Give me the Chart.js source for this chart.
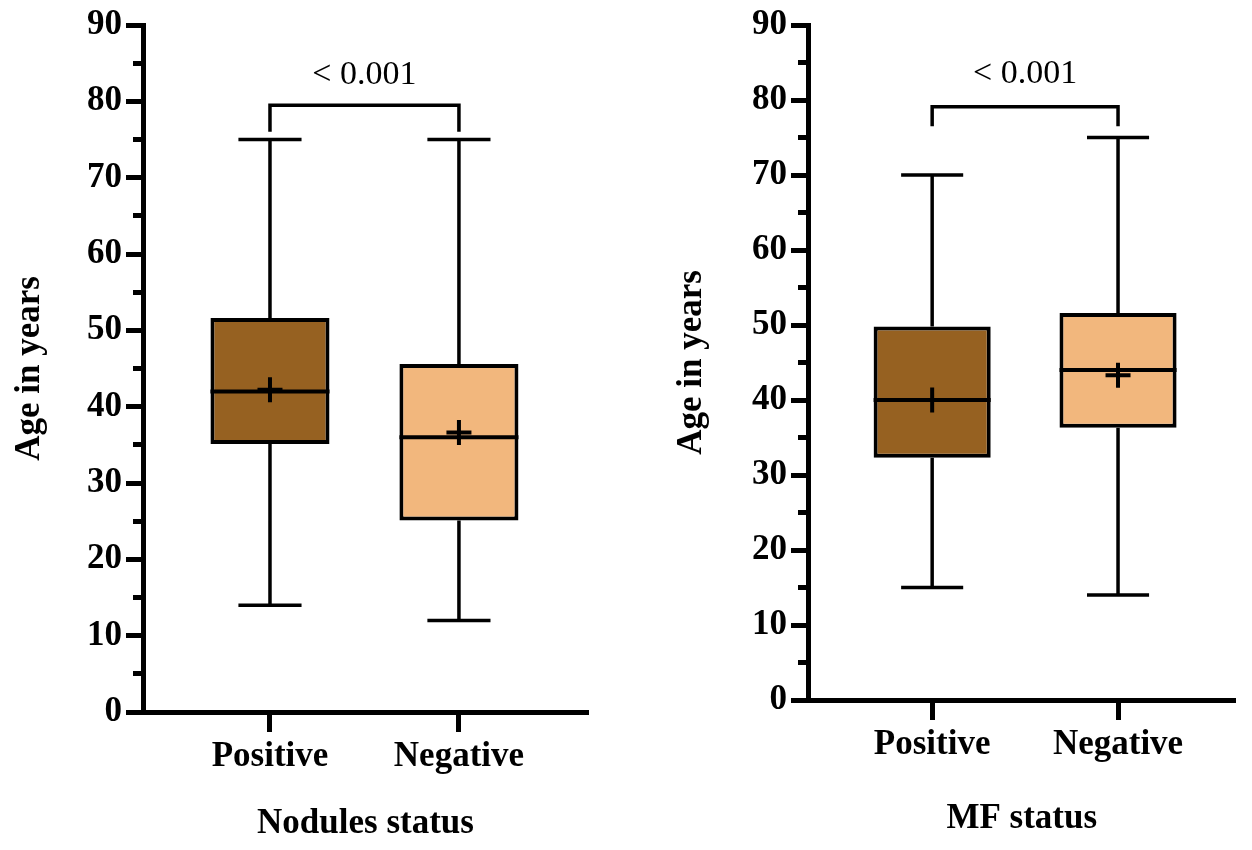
<!DOCTYPE html>
<html>
<head>
<meta charset="utf-8">
<script src="https://cdn.jsdelivr.net/npm/chart.js@4/dist/chart.umd.min.js"></script>
<style>
  html, body { margin: 0; padding: 0; background: #ffffff; }
  #wrap { position: relative; width: 1252px; height: 850px; overflow: hidden; }
  #p1 { position: absolute; left: 0; top: 0; width: 625px; height: 850px; }
  #p2 { position: absolute; left: 625px; top: 0; width: 627px; height: 850px; }
</style>
</head>
<body>
<div id="wrap">
  <div id="p1"><canvas id="c1" width="625" height="850"></canvas></div>
  <div id="p2"><canvas id="c2" width="627" height="850"></canvas></div>
</div>
<script>
// ---------------- data ----------------
const CATEGORIES = ['Positive', 'Negative'];
const Y_MIN = 0;
const Y_MAX = 90;
const Y_MAJOR_STEP = 10;
const Y_MINOR_STEP = 5;
const Y_TITLE = 'Age in years';

// Panel 1: Nodules status
const NOD_TITLE = 'Nodules status';
const NOD_MIN = [14, 12];
const NOD_Q1 = [35.1, 25.1];
const NOD_MEDIAN = [42, 36];
const NOD_MEAN = [42.2, 36.6];
const NOD_Q3 = [51.6, 45.6];
const NOD_MAX = [75, 75];
const NOD_P_TEXT = '< 0.001';
const NOD_BRACKET_TOP = 79.5;
const NOD_BRACKET_END = 76;

// Panel 2: MF status
const MF_TITLE = 'MF status';
const MF_MIN = [15, 14];
const MF_Q1 = [32.3, 36.3];
const MF_MEDIAN = [40, 44];
const MF_MEAN = [40, 43.3];
const MF_Q3 = [49.8, 51.6];
const MF_MAX = [70, 75];
const MF_P_TEXT = '< 0.001';
const MF_BRACKET_TOP = 79.1;
const MF_BRACKET_END = 76.5;

const P_TEXT_Y = 83.5;

// ---------------- styles ----------------
const FILLS = ['#966121', '#F2B77D'];
const FONT = '"Liberation Serif", "Times New Roman", serif';
const BOX_WIDTH_FRAC = 0.63;   // of category spacing
const CAP_HALF = 0.167;        // whisker cap half-width (category units)
const LINE_W = 3.5;

function whiskers(q1, q3, mn, mx) {
  const pts = [];
  CATEGORIES.forEach((c, i) => {
    const x = i + 1;
    pts.push({x, y: q3[i]}, {x, y: mx[i]}, {x, y: null});
    pts.push({x, y: q1[i]}, {x, y: mn[i]}, {x, y: null});
  });
  return pts;
}
function caps(mn, mx) {
  const pts = [];
  CATEGORIES.forEach((c, i) => {
    const x = i + 1;
    pts.push({x: x - CAP_HALF, y: mx[i]}, {x: x + CAP_HALF, y: mx[i]}, {x, y: null});
    pts.push({x: x - CAP_HALF, y: mn[i]}, {x: x + CAP_HALF, y: mn[i]}, {x, y: null});
  });
  return pts;
}
function medians(med) {
  const pts = [];
  const h = BOX_WIDTH_FRAC / 2;
  CATEGORIES.forEach((c, i) => {
    const x = i + 1;
    pts.push({x: x - h, y: med[i]}, {x: x + h, y: med[i]}, {x, y: null});
  });
  return pts;
}
function bracket(top, end) {
  return [{x: 1, y: end}, {x: 1, y: top}, {x: CATEGORIES.length, y: top}, {x: CATEGORIES.length, y: end}];
}
function lineDs(data, width) {
  return {
    type: 'line', data, yAxisID: 'y', xAxisID: 'x',
    borderColor: '#000', borderWidth: width, pointRadius: 0,
    spanGaps: false, tension: 0, fill: false, order: 1
  };
}

const pLabelPlugin = {
  id: 'pLabel',
  afterDatasetsDraw(chart, args, opts) {
    const {ctx} = chart;
    const xs = chart.scales.x, ys = chart.scales.y;
    ctx.save();
    ctx.font = '34px ' + FONT;
    ctx.fillStyle = '#000';
    ctx.textAlign = 'center';
    ctx.textBaseline = 'middle';
    ctx.fillText(opts.text, xs.getPixelForValue(opts.x), ys.getPixelForValue(opts.y));
    ctx.restore();
  }
};

function makeChart(canvasId, cfg) {
  const datasets = [
    {
      type: 'bar',
      data: CATEGORIES.map((c, i) => ({x: i + 1, y: [cfg.q1[i], cfg.q3[i]]})),
      backgroundColor: FILLS,
      borderColor: '#000',
      borderWidth: 4,
      borderSkipped: false,
      categoryPercentage: 1,
      barPercentage: BOX_WIDTH_FRAC,
      xAxisID: 'x', yAxisID: 'y',
      order: 2
    },
    lineDs(whiskers(cfg.q1, cfg.q3, cfg.min, cfg.max), LINE_W),
    lineDs(caps(cfg.min, cfg.max), LINE_W),
    lineDs(medians(cfg.median), 4),
    lineDs(bracket(cfg.bTop, cfg.bEnd), LINE_W),
    {
      type: 'line', showLine: false, yAxisID: 'y', xAxisID: 'x',
      data: CATEGORIES.map((c, i) => ({x: i + 1, y: cfg.mean[i]})),
      pointStyle: 'cross', pointRadius: 12.5, pointBorderWidth: 4,
      pointBorderColor: '#000', borderColor: '#000', order: 0
    }
  ];
  return new Chart(document.getElementById(canvasId), {
    type: 'bar',
    data: {datasets},
    plugins: [pLabelPlugin],
    options: {
      responsive: false,
      animation: false,
      events: [],
      layout: {padding: cfg.padding},
      plugins: {
        legend: {display: false},
        tooltip: {enabled: false},
        pLabel: {text: cfg.pText, x: (1 + CATEGORIES.length) / 2, y: P_TEXT_Y}
      },
      scales: {
        x: {
          type: 'linear',
          min: cfg.xMin, max: cfg.xMax,
          offset: false,
          grid: {offset: false, drawOnChartArea: false, drawTicks: true, tickLength: 20, tickWidth: 5, color: '#000'},
          border: {display: true, width: 5, color: '#000'},
          afterBuildTicks(s) { s.ticks = CATEGORIES.map((c, i) => ({value: i + 1})); },
          afterFit(s) { s.height = cfg.xHeight; },
          ticks: {
            autoSkip: false, maxRotation: 0, minRotation: 0, padding: 4,
            color: '#000',
            font: {family: FONT, size: 35, weight: 'bold', lineHeight: 1.2},
            callback: (v) => CATEGORIES[Math.round(v) - 1] || ''
          },
          title: {
            display: true, text: cfg.title, color: '#000',
            font: {family: FONT, size: 35, weight: 'bold', lineHeight: 1.2},
            padding: {top: 0, bottom: cfg.xTitlePad}
          }
        },
        y: {
          type: 'linear', position: 'left', weight: 1,
          min: Y_MIN, max: Y_MAX,
          grid: {drawOnChartArea: false, drawTicks: true, tickLength: 17, tickWidth: 5, color: '#000'},
          border: {display: true, width: 5, color: '#000'},
          afterFit(s) { s.width = cfg.yWidth; },
          ticks: {
            stepSize: Y_MAJOR_STEP, padding: 4, color: '#000',
            font: {family: FONT, size: 35, weight: 'bold', lineHeight: 1.2}
          },
          title: {
            display: true, text: Y_TITLE, color: '#000',
            font: {family: FONT, size: 35, weight: 'bold', lineHeight: 1.2},
            padding: {top: cfg.yTitlePad, bottom: 0}
          }
        },
        yMinor: {
          type: 'linear', position: 'left', weight: 0,
          min: Y_MIN, max: Y_MAX,
          grid: {drawOnChartArea: false, drawTicks: true, tickLength: 10, tickWidth: 5, color: '#000'},
          border: {display: false},
          afterFit(s) { s.width = 0; },
          ticks: {display: false, stepSize: Y_MINOR_STEP}
        }
      }
    }
  });
}

makeChart('c1', {
  min: NOD_MIN, q1: NOD_Q1, median: NOD_MEDIAN, mean: NOD_MEAN, q3: NOD_Q3, max: NOD_MAX,
  pText: NOD_P_TEXT, bTop: NOD_BRACKET_TOP, bEnd: NOD_BRACKET_END, title: NOD_TITLE,
  xMin: 0.328, xMax: 2.683, yWidth: 143, xHeight: 138,
  padding: {top: 23, right: 37, bottom: 0, left: 0},
  yTitlePad: 9, xTitlePad: 5
});
makeChart('c2', {
  min: MF_MIN, q1: MF_Q1, median: MF_MEDIAN, mean: MF_MEAN, q3: MF_Q3, max: MF_MAX,
  pText: MF_P_TEXT, bTop: MF_BRACKET_TOP, bEnd: MF_BRACKET_END, title: MF_TITLE,
  xMin: 0.332, xMax: 2.632, yWidth: 183, xHeight: 150,
  padding: {top: 22, right: 0, bottom: 0, left: 0},
  yTitlePad: 46, xTitlePad: 10
});
</script>
</body>
</html>
